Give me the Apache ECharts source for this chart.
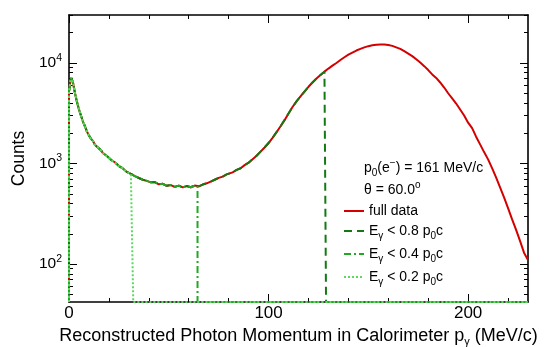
<!DOCTYPE html>
<html>
<head>
<meta charset="utf-8">
<script src="https://cdn.jsdelivr.net/npm/echarts@6/dist/echarts.min.js"></script>
<style>html,body{margin:0;padding:0;background:#fff}#c{width:550px;height:347px}</style>
</head>
<body>
<div id="c"></div>
<script>
// x positions (MeV/c) and counts
const xs = [0,1,2,3,4,5,6,7,8,9,10,11,12,13,14,15,16,17,18,19,20,21,22,23,24,25,26,27,28,29,30,31,32,33,34,35,36,37,38,39,40,41,42,43,44,45,46,47,48,49,50,51,52,53,54,55,56,57,58,59,60,61,62,63,64,65,66,67,68,69,70,71,72,73,74,75,76,77,78,79,80,82,84,86,88,90,92,94,96,98,100,102,104,106,108,110,112,114,116,118,120,122,124,126,128,130,132,134,136,138,140,142,144,146,148,150,152,154,156,158,160,162,164,166,168,170,172,174,176,178,180,182,184,186,188,190,192,194,196,198,200,202,204,206,208,210,212,214,216,218,220,222,224,226,228,230];
const fullData = [5200,7200,6400,5000,4100,3450,3000,2600,2350,2080,1900,1760,1680,1540,1470,1420,1360,1270,1220,1190,1160,1090,1050,1030,1000,945,910,895,870,825,800,790,775,750,735,718,705,690,670,672,665,650,645,652,640,622,615,628,612,601,598,611,607,586,590,603,595,579,585,598,592,581,588,604,600,594,606,618,628,636,648,660,672,690,698,720,735,742,758,780,795,818,865,898,965,1020,1105,1195,1315,1445,1600,1800,2050,2350,2700,3150,3650,4150,4650,5200,5800,6400,7000,7600,8200,8800,9400,10000,10700,11400,12100,12700,13300,13800,14300,14700,15000,15200,15300,15300,15100,14800,14300,13800,13100,12400,11700,10900,10100,9300,8500,7700,7100,6400,5700,5000,4450,3950,3450,3000,2550,2250,1850,1550,1300,1100,900,730,580,460,360,280,220,170,130,110];
const cuts = [128.8, 64.4, 32.2];          // 0.8, 0.4, 0.2 x p0c with p0 = 161 MeV/c
const seriesNames = ['full data', 'cut08', 'cut04', 'cut02'];
const legendLabels = {
  'full data': '{t|full data}',
  'cut08': '{t|E}{sub|γ}{t| < 0.8 p}{sub|0}{t|c}',
  'cut04': '{t|E}{sub|γ}{t| < 0.4 p}{sub|0}{t|c}',
  'cut02': '{t|E}{sub|γ}{t| < 0.2 p}{sub|0}{t|c}'
};
const yMajor = [100, 1000, 10000];
const yMinor = [50,60,70,80,90,200,300,400,500,600,700,800,900,2000,3000,4000,5000,6000,7000,8000,9000,20000,30000];
const xMajor = [0, 100, 200];
const xMinor = [20,40,60,80,120,140,160,180,220];
const X_MIN = 0, X_MAX = 230, Y_MIN = 42, Y_MAX = 30000;

const FONT = 'Liberation Sans, Arial, Helvetica, sans-serif';
const full = [[X_MIN, Y_MIN]].concat(xs.map((x, i) => [x, fullData[i]]));
function cutSeries(cut) {
  const d = [[X_MIN, Y_MIN]];
  let last = null;
  xs.forEach((x, i) => { if (x <= cut) { d.push([x, fullData[i]]); last = fullData[i]; } });
  d.push([cut, last]);
  d.push([cut, Y_MIN]);   // zero counts drawn at the frame, as ROOT does on a log scale
  d.push([X_MAX, Y_MIN]);
  return d;
}

const rich = {
  t: {fontSize: 14, fontFamily: FONT, color: '#000', fontWeight: 'normal'},
  sub: {fontSize: 10, fontFamily: FONT, color: '#000', fontWeight: 'normal', padding: [10, 0, 0, 0]},
  sup: {fontSize: 10, fontFamily: FONT, color: '#000', fontWeight: 'normal', padding: [0, 0, 9, 0]},
  b: {fontSize: 15.5, fontFamily: FONT, color: '#000'},
  bs: {fontSize: 10.5, fontFamily: FONT, color: '#000', padding: [0, 0, 10, 0]}
};

function xAx(pos, ticks, len, labels, line) {
  return {
    type: 'value', position: pos, min: X_MIN, max: X_MAX,
    axisLine: {show: line, onZero: false, lineStyle: {color: '#000', width: 1.6}},
    axisTick: {show: true, inside: true, length: len, customValues: ticks, lineStyle: {color: '#000', width: 1}},
    axisLabel: labels ? {show: true, customValues: xMajor, fontSize: 17, fontFamily: FONT, color: '#000', margin: 3} : {show: false},
    splitLine: {show: false}
  };
}
function yAx(pos, ticks, len, labels, line) {
  return {
    type: 'log', logBase: 10, position: pos, min: Y_MIN, max: Y_MAX,
    axisLine: {show: line, onZero: false, lineStyle: {color: '#000', width: 1.6}},
    axisTick: {show: true, inside: true, length: len, customValues: ticks, lineStyle: {color: '#000', width: 1}},
    axisLabel: labels ? {show: true, customValues: yMajor, margin: 7, rich: rich,
      formatter: v => '{b|10}{bs|' + Math.round(Math.log10(v)) + '}'} : {show: false},
    splitLine: {show: false}
  };
}

const xAxis = [xAx('bottom', xMajor, 8, true, true), xAx('bottom', xMinor, 4, false, false),
               xAx('top', xMajor, 8, false, true), xAx('top', xMinor, 4, false, false)];
xAxis[0].name = '{t|Reconstructed Photon Momentum in Calorimeter p}{sub|γ}{t| (MeV/c)}';
xAxis[0].nameLocation = 'middle';
xAxis[0].nameGap = 21;
xAxis[0].nameTextStyle = {rich: {t: {fontSize: 18, fontFamily: FONT, color: '#000'}, sub: {fontSize: 11, fontFamily: FONT, color: '#000', padding: [12, 0, 0, 0]}}};

const yAxis = [yAx('left', yMajor, 8, true, true), yAx('left', yMinor, 4, false, false),
               yAx('right', yMajor, 8, false, true), yAx('right', yMinor, 4, false, false)];
yAxis[0].name = 'Counts';
yAxis[0].nameLocation = 'middle';
yAxis[0].nameGap = 29;
yAxis[0].nameTextStyle = {fontSize: 17.5, fontFamily: FONT, color: '#000'};

const styles = [
  {color: '#d40000', type: 'solid', width: 2},
  {color: '#137a13', type: [8, 5], width: 2},
  {color: '#22a822', type: [7, 3, 2, 3], width: 2},
  {color: '#5fd85f', type: [2, 2], width: 2}
];
const datas = [full, cutSeries(cuts[0]), cutSeries(cuts[1]), cutSeries(cuts[2])];

const option = {
  animation: false,
  grid: {left: 69, right: 22, top: 15, bottom: 45, outerBoundsMode: 'none', containLabel: false},
  xAxis: xAxis,
  yAxis: yAxis,
  title: {
    text: '{t|p}{sub|0}{t|(e}{sup|−}{t|) = 161 MeV/c}\n{t|θ = 60.0}{sup|o}',
    left: 364, top: 157, padding: 0,
    textStyle: {fontWeight: 'normal', rich: Object.assign({}, rich, {t: {fontSize: 14, fontFamily: FONT, color: '#000', fontWeight: 'normal', lineHeight: 22}})}
  },
  legend: {
    orient: 'vertical', left: 343, top: 204, itemWidth: 20, itemHeight: 14, itemGap: 6, padding: 0,
    data: seriesNames,
    itemStyle: {opacity: 0},
    formatter: n => legendLabels[n],
    textStyle: {fontSize: 14, fontFamily: FONT, color: '#000', rich: rich}
  },
  series: seriesNames.map((n, i) => ({
    name: n, type: 'line', data: datas[i], showSymbol: false, symbol: 'none', clip: true,
    lineStyle: styles[i], itemStyle: {color: styles[i].color}, z: 2 + i
  }))
};
echarts.init(document.getElementById('c')).setOption(option);
</script>
</body>
</html>
